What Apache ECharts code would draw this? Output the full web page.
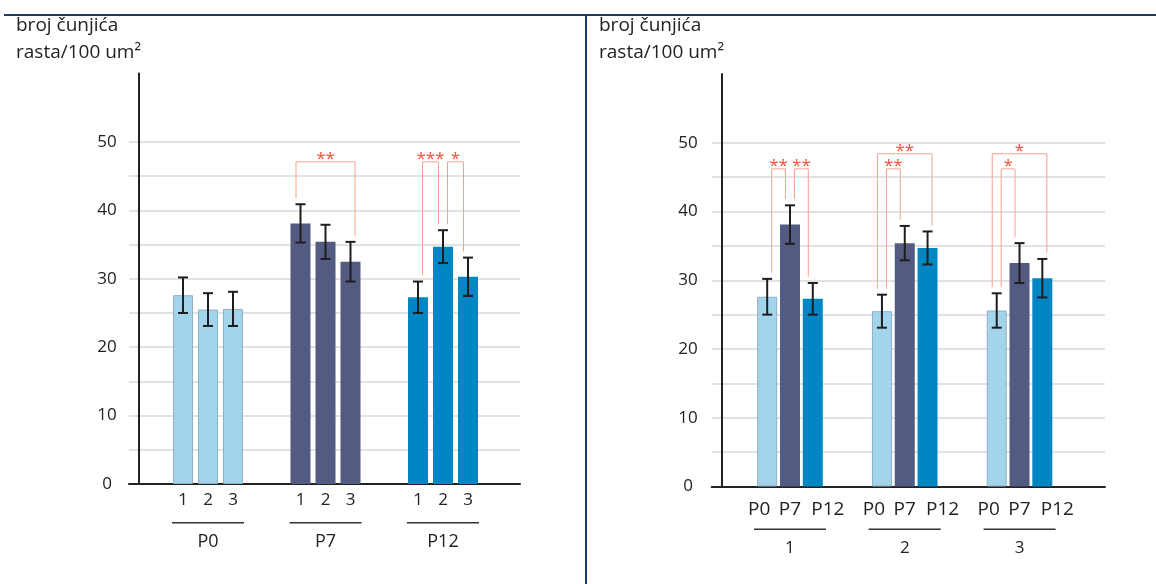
<!DOCTYPE html>
<html><head><meta charset="utf-8">
<script src="https://cdn.jsdelivr.net/npm/echarts@6/dist/echarts.min.js"></script>
<style>html,body{margin:0;padding:0;background:#fff}#c{width:1156px;height:584px}</style>
</head><body><div id="c"></div>
<script>
// ---- data ----
const ages = ['P0', 'P7', 'P12'];
const animals = ['1', '2', '3'];
const meanP0 = [27.6, 25.5, 25.6];
const meanP7 = [38.1, 35.4, 32.5];
const meanP12 = [27.3, 34.7, 30.3];
const errP0 = [2.6, 2.4, 2.5];
const errP7 = [2.8, 2.5, 2.9];
const errP12 = [2.3, 2.4, 2.8];
const yTicks = [0, 10, 20, 30, 40, 50];
const yMax = 60;
const yStep = 5;
const titleLines = ['broj čunjića', 'rasta/100 um²'];
// significance brackets: [group index, bar A, bar B, bracket level, stars]
const bracketsLeft = [[1, 0, 2, 47.1, '**'], [2, 0, 1, 47.1, '***'], [2, 1, 2, 47.1, '*']];
const bracketsRight = [[0, 0, 1, 46.2, '**'], [0, 1, 2, 46.2, '**'], [1, 0, 2, 48.4, '**'], [1, 0, 1, 46.2, '**'], [2, 0, 2, 48.4, '*'], [2, 0, 1, 46.2, '*']];

// ---- styling ----
const means = [meanP0, meanP7, meanP12];
const errs = [errP0, errP7, errP12];
const ageColors = ['#a2d4ec', '#535b83', '#0086c3'];
const ageBorders = ['#8fb0c2', '#535b83', '#0086c3'];
const FONT = 'Open Sans';
const TXT = '#222';

const chart = echarts.init(document.getElementById('c'), null, {renderer: 'canvas'});

const L = {top: 73.6, h: 410.4, fx: 129, fw: 391, bx: 149.25, bw: 352.5, barW: 20, gap: '25%', step: 25};
const R = {top: 74, h: 412.5, fx: 711.7, fw: 393.3, bx: 732.6, bw: 344.3, barW: 20, gap: '14%', step: 22.8};

const nTicks = yMax / yStep + 1;
const splitColors = [];
for (let i = 0; i < nTicks; i++) splitColors.push(i * yStep <= yTicks[yTicks.length - 1] ? '#d9d9d9' : 'rgba(0,0,0,0)');

function frameY(grid, off, margin) {
  return {gridIndex: grid, type: 'value', min: 0, max: yMax, interval: yStep, offset: off,
    axisLine: {show: true, onZero: false, lineStyle: {color: TXT, width: 2}},
    axisTick: {show: false},
    axisLabel: {formatter: v => yTicks.includes(v) ? String(v) : '', align: 'center', margin: margin,
      fontFamily: FONT, fontSize: 17, color: TXT},
    splitLine: {show: true, lineStyle: {color: splitColors, width: 1.5}}};
}
function frameX(grid) {
  return {gridIndex: grid, type: 'value', min: 0, max: 1, axisLine: {show: true, onZero: false, lineStyle: {color: TXT, width: 2}},
    axisTick: {show: false}, axisLabel: {show: false}, splitLine: {show: false}};
}
function hiddenY(grid) {
  return {gridIndex: grid, type: 'value', min: 0, max: yMax, interval: yStep, show: false, splitLine: {show: false}};
}
function catX(grid, cats, margin, fs) {
  return {gridIndex: grid, type: 'category', data: cats, axisLine: {show: false}, axisTick: {show: false},
    splitLine: {show: false},
    axisLabel: {interval: 0, margin: margin, formatter: v => '{l|}\n{n|' + v + '}',
      rich: {l: {width: 72, height: 1.5, lineHeight: 1.5, backgroundColor: '#333', align: 'center'},
             n: {fontFamily: FONT, fontSize: fs, lineHeight: 36, color: TXT, align: 'center'}}}};
}

function errorSeries(axisIdx, k, data, step) {
  return {type: 'custom', xAxisIndex: axisIdx, yAxisIndex: axisIdx, z: 5, data: data,
    renderItem: (params, api) => {
      const c = api.value(0);
      const lo = api.coord([c, api.value(1)]);
      const hi = api.coord([c, api.value(2)]);
      const x = lo[0] + (k - 1) * step;
      const cap = 5;
      const st = {stroke: '#1e1e1e', lineWidth: 2};
      return {type: 'group', children: [
        {type: 'line', shape: {x1: x, y1: lo[1], x2: x, y2: hi[1]}, style: st},
        {type: 'line', shape: {x1: x - cap, y1: lo[1], x2: x + cap, y2: lo[1]}, style: st},
        {type: 'line', shape: {x1: x - cap, y1: hi[1], x2: x + cap, y2: hi[1]}, style: st}
      ]};
    }};
}

function bracketSeries(axisIdx, list, step, errTop) {
  return {type: 'custom', xAxisIndex: axisIdx, yAxisIndex: axisIdx, z: 6,
    data: list.map(b => [b[0], b[1], b[2], b[3]]),
    renderItem: (params, api) => {
      const g = api.value(0), a = api.value(1), b = api.value(2), lev = api.value(3);
      const cx = api.coord([g, 0])[0];
      const span = b - a;
      const d = span === 1 ? 4.5 : -4.5;
      const xa = cx + (a - 1) * step + d;
      const xb = cx + (b - 1) * step - d;
      const ya = api.coord([g, errTop(g, a) + 0.9])[1];
      const yb = api.coord([g, errTop(g, b) + 0.9])[1];
      const yt = api.coord([g, lev])[1];
      return {type: 'group', children: [
        {type: 'polyline', shape: {points: [[xa, ya], [xa, yt], [xb, yt], [xb, yb]]},
          style: {stroke: '#f6a18e', lineWidth: 1, fill: null}},
        {type: 'text', x: (xa + xb) / 2, y: yt - 3,
          style: {text: list[params.dataIndex][4], fill: '#f0503a', fontSize: 17, fontFamily: FONT,
            align: 'center', verticalAlign: 'middle'}}
      ]};
    }};
}

const series = [];
// left panel: categories = ages, series = animals
animals.forEach((an, k) => {
  series.push({type: 'bar', name: an, xAxisIndex: 1, yAxisIndex: 1, barWidth: L.barW, barGap: L.gap,
    data: ages.map((ag, i) => ({value: means[i][k],
      itemStyle: {color: ageColors[i], borderColor: ageBorders[i], borderWidth: i === 0 ? 1 : 0}})),
    label: {show: true, position: 'bottom', distance: 8, formatter: '{a}', fontFamily: FONT, fontSize: 17, color: TXT}});
});
animals.forEach((an, k) => {
  series.push(errorSeries(1, k, ages.map((ag, i) => [i, means[i][k] - errs[i][k], means[i][k] + errs[i][k]]), L.step));
});
series.push(bracketSeries(1, bracketsLeft, L.step, (g, bar) => means[g][bar] + errs[g][bar]));

// right panel: categories = animals, series = ages
const labelShift = [-8, 0, 15];
ages.forEach((ag, k) => {
  series.push({type: 'bar', name: ag, xAxisIndex: 3, yAxisIndex: 3, barWidth: R.barW, barGap: R.gap,
    itemStyle: {color: ageColors[k], borderColor: ageBorders[k], borderWidth: k === 0 ? 1 : 0},
    data: animals.map((an, j) => means[k][j]),
    label: {show: true, position: 'bottom', distance: 14, offset: [labelShift[k], 0], formatter: '{a}',
      fontFamily: FONT, fontSize: 19, color: TXT}});
});
ages.forEach((ag, k) => {
  series.push(errorSeries(3, k, animals.map((an, j) => [j, means[k][j] - errs[k][j], means[k][j] + errs[k][j]]), R.step));
});
series.push(bracketSeries(3, bracketsRight, R.step, (g, bar) => means[bar][g] + errs[bar][g]));

const option = {
  backgroundColor: '#ffffff',
  animation: false,
  textStyle: {fontFamily: FONT},
  title: [
    {text: titleLines.join('\n'), left: 16, top: 12, padding: 0,
      textStyle: {fontFamily: FONT, fontSize: 19, fontWeight: 'normal', lineHeight: 27, color: TXT}},
    {text: titleLines.join('\n'), left: 599, top: 12, padding: 0,
      textStyle: {fontFamily: FONT, fontSize: 19, fontWeight: 'normal', lineHeight: 27, color: TXT}}
  ],
  grid: [
    {left: L.fx, top: L.top, width: L.fw, height: L.h, outerBoundsMode: 'none'},
    {left: L.bx, top: L.top, width: L.bw, height: L.h, outerBoundsMode: 'none'},
    {left: R.fx, top: R.top, width: R.fw, height: R.h, outerBoundsMode: 'none'},
    {left: R.bx, top: R.top, width: R.bw, height: R.h, outerBoundsMode: 'none'}
  ],
  xAxis: [frameX(0), catX(1, ages, 38, 18), frameX(2), catX(3, animals, 42, 17)],
  yAxis: [frameY(0, -10, 32), hiddenY(1), frameY(2, -10.3, 34), hiddenY(3)],
  series: series,
  graphic: [
    {type: 'rect', z: 100, shape: {x: 4, y: 14, width: 1152, height: 2}, style: {fill: '#1d3a6b'}},
    {type: 'rect', z: 100, shape: {x: 585, y: 14, width: 2, height: 570}, style: {fill: '#1d3a6b'}}
  ]
};
chart.setOption(option);
</script></body></html>
